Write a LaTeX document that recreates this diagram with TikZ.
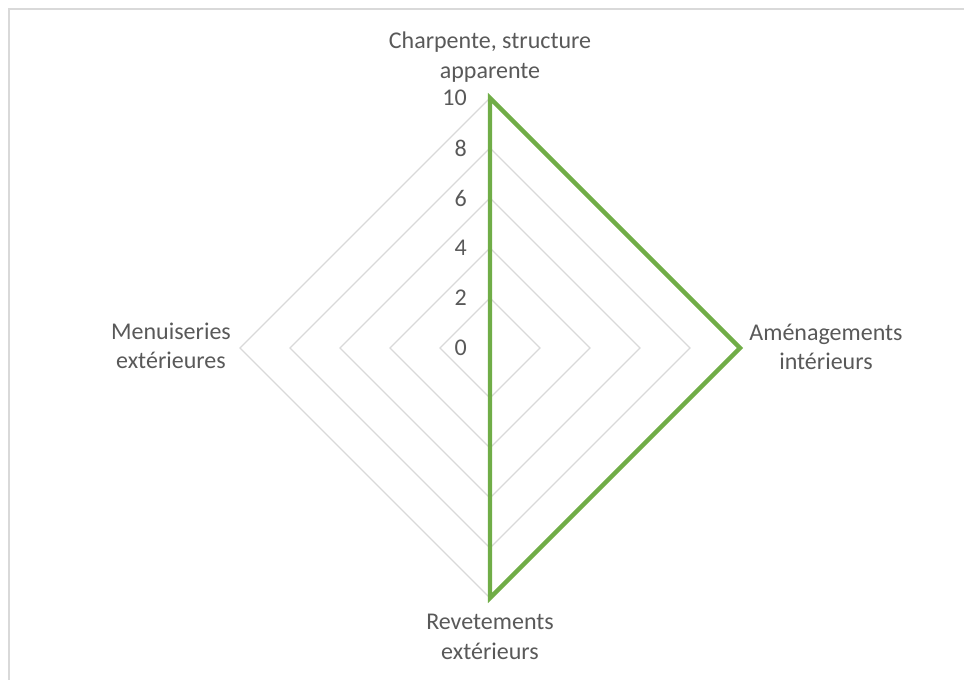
\documentclass[tikz,border=0pt]{standalone}
\usepackage{fontspec}
\setmainfont{Carlito}
\definecolor{grille}{HTML}{D9D9D9}
\definecolor{serie}{HTML}{70AD47}
\definecolor{texte}{HTML}{595959}

\begin{document}
\begin{tikzpicture}[x=0.75pt,y=-0.75pt]

      \useasboundingbox (0,0) rectangle (964,680);
      \draw[grille, line width=1.5pt] (9,700) -- (9,9.5) -- (980,9.5);

      % axes du radar
      \coordinate (c) at (490,348);
      \coordinate (t) at (490,98);
      \coordinate (r) at (740,348);
      \coordinate (b) at (490,598);
      \coordinate (l) at (240,348);

      \foreach \r in {50,100,...,250}
        \draw[grille, line width=0.9pt] (490,348-\r) -- (490+\r,348) -- (490,348+\r) -- (490-\r,348) -- cycle;

      \begin{scope}[every node/.style={text=texte, inner sep=0pt, font=\fontsize{18}{22}\selectfont}]
        \foreach \v in {0,2,...,10}
          \node[anchor=east] (v\v) at (467,348-\v*25) {\v};

        \node[align=center] (cat1) at (490,57)  {Charpente, structure\\apparente};
        \node[align=center] (cat2) at (826,347) {Aménagements\\intérieurs};
        \node[align=center] (cat3) at (490,637) {Revetements\\extérieurs};
        \node[align=center] (cat4) at (171,346) {Menuiseries\\extérieures};
      \end{scope}

      \draw[serie, line width=3.2pt] (t) -- (r) -- (b) -- (c) -- cycle;

    \end{tikzpicture}
\end{document}
